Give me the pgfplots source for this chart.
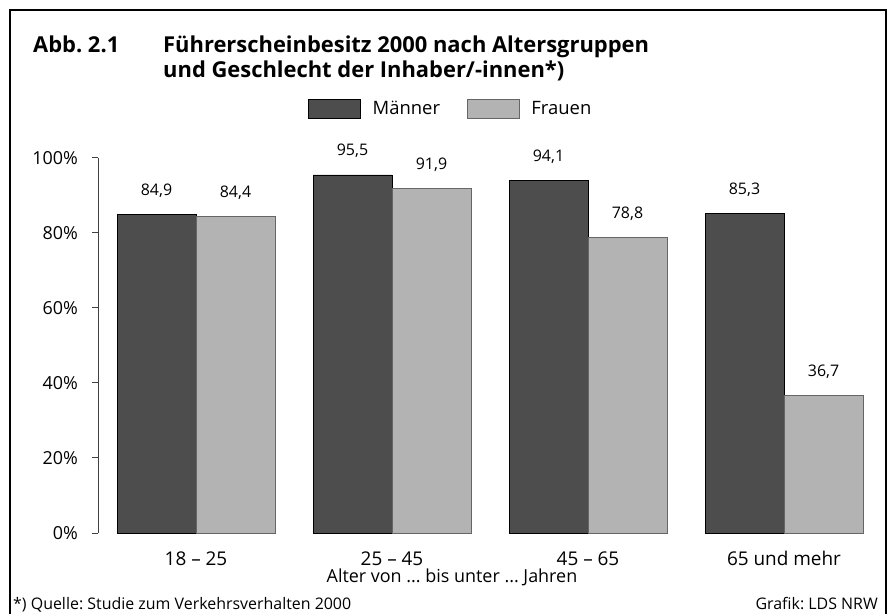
\documentclass[border=0pt]{standalone}
\usepackage{fontspec}
\setmainfont{Open Sans}
\usepackage{pgfplots}
\pgfplotsset{compat=1.18}
\definecolor{dark}{HTML}{4D4D4D}
\definecolor{light}{HTML}{B3B3B3}
\begin{document}
\frenchspacing
\begin{tikzpicture}
\useasboundingbox (0,0) rectangle (896bp,614bp);
\draw[line width=2bp] (10bp,0) -- (10bp,604bp) -- (886bp,604bp) -- (886bp,0);
\node[anchor=base west,inner sep=0pt,font=\fontsize{22}{26}\selectfont\bfseries] at (33bp,561bp) {Abb. 2.1};
\node[anchor=base west,inner sep=0pt,font=\fontsize{22}{26}\selectfont\bfseries] at (163bp,561bp) {Führerscheinbesitz 2000 nach Altersgruppen};
\node[anchor=base west,inner sep=0pt,font=\fontsize{22}{26}\selectfont\bfseries] at (163bp,536bp) {und Geschlecht der Inhaber/-innen*)};
\node[anchor=base west,inner sep=0pt,font=\fontsize{16}{19}\selectfont] at (13bp,5bp) {*) Quelle: Studie zum Verkehrsverhalten 2000};
\node[anchor=base east,inner sep=0pt,font=\fontsize{16}{19}\selectfont] at (878bp,5bp) {Grafik: LDS NRW};
\begin{axis}[
  at={(98bp,81bp)}, anchor=south west,
  x=196bp, y=3.75bp,
  xmin=-0.5, xmax=3.5, ymin=0, ymax=100,
  clip=false,
  axis y line*=left, axis x line*=bottom,
  x axis line style={draw=none},
  y axis line style={black!75, line width=1bp},
  ybar=0pt, bar width=79bp,
  xtick={0,1,2,3},
  xticklabels={18 – 25, 25 – 45, 45 – 65, 65 und mehr},
  xtick style={draw=none},
  ytick={0,20,40,60,80,100},
  yticklabel={\pgfmathprintnumber{\tick}\%},
  tick align=outside, major tick length=6bp,
  ytick style={black!75, line width=1bp},
  /pgf/number format/assume math mode=true,
  yticklabel style={font=\fontsize{18}{21}\selectfont, anchor=east, inner sep=0pt, xshift=-14bp},
  xticklabel style={font=\fontsize{19}{22}\selectfont, anchor=base, yshift=-26bp},
  xlabel={Alter von ... bis unter ... Jahren},
  every axis x label/.style={at={(axis description cs:0.4515,0)}, anchor=base, yshift=-49bp, inner sep=0pt, font=\fontsize{18}{21}\selectfont},
  nodes near coords={\pgfmathprintnumber[fixed,fixed zerofill,precision=1,use comma]{\pgfplotspointmeta}},
  every node near coord/.append style={font=\fontsize{16}{19}\selectfont, anchor=base, yshift=19bp, inner sep=0pt, black},
  legend style={at={(0.450,1.131)}, anchor=center, draw=none, font=\fontsize{18.5}{21}\selectfont,
    /tikz/every odd column/.append style={column sep=10bp},
    /tikz/every even column/.append style={column sep=25bp}},
  legend columns=2,
  legend image code/.code={\draw[#1] (0bp,-9.5bp) rectangle (52bp,9.5bp);},
]
\addplot[fill=dark, draw=black] coordinates {(0,84.9) (1,95.5) (2,94.1) (3,85.3)};
\addplot[fill=light, draw=black!60] coordinates {(0,84.4) (1,91.9) (2,78.8) (3,36.7)};
\legend{Männer, Frauen}
\end{axis}
\end{tikzpicture}
\end{document}
